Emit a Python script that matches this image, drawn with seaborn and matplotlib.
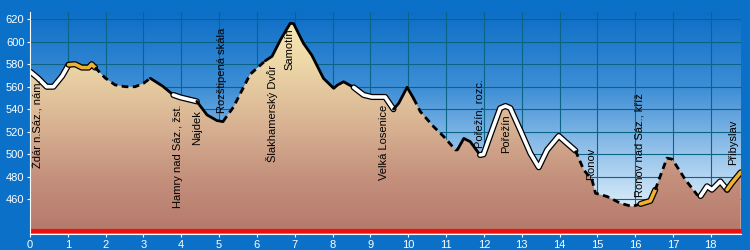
import numpy as np
import matplotlib
matplotlib.use("Agg")
import matplotlib.pyplot as plt
import matplotlib.patheffects as pe
from matplotlib.colors import LinearSegmentedColormap
import seaborn as sns
import pandas as pd

# ---------------- data ----------------
km = [0, 0.2, 0.44, 0.62, 0.85, 1.02, 1.19, 1.37, 1.55, 1.63, 1.72, 1.99, 2.25,
      2.52, 2.78, 3.0, 3.18, 3.5, 3.79, 3.97, 4.41, 4.68, 4.94, 5.1, 5.38, 5.82,
      6.22, 6.4, 6.62, 6.88, 6.97, 7.23, 7.45, 7.76, 8.03, 8.13, 8.29, 8.56,
      8.82, 9.04, 9.39, 9.61, 9.75, 9.97, 10.14, 10.32, 10.67, 10.94, 11.25,
      11.3, 11.47, 11.64, 11.9, 11.99, 12.17, 12.43, 12.57, 12.7, 12.96, 13.23,
      13.45, 13.67, 13.98, 14.15, 14.42, 14.64, 14.86, 14.95, 15.26, 15.61,
      15.92, 16.14, 16.4, 16.53, 16.84, 16.98, 17.33, 17.64, 17.73, 17.9, 18.03,
      18.25, 18.43, 18.56, 18.79]
elev = [573.5, 568, 560, 560, 569.5, 579.5, 580, 577, 577, 580, 577, 567.7,
        561.6, 560, 560, 563, 567.5, 560.7, 552.7, 550.6, 547, 535, 530, 529,
        542, 571, 583, 587, 601.5, 616.3, 616, 598.5, 588, 567.4, 558.6, 561.5,
        564.4, 559.4, 552.7, 550.9, 550.9, 540, 545.4, 559.5, 549.7, 537.9,
        524.6, 515.7, 503.9, 504, 514.1, 511.2, 499.4, 500, 517, 540.9, 542.9,
        541, 521.6, 500.9, 488.5, 503.8, 516.3, 511.2, 503.3, 486.2, 477.3,
        465.5, 462.5, 456.6, 453.7, 456, 458.7, 468.5, 496.6, 495.7, 477.3, 464,
        463, 471.6, 468.6, 476, 468.6, 474.6, 484]

# line style sections: (start km, end km, style)
seg_start = [0, 1.02, 1.72, 3.18, 3.79, 4.41, 5.1, 6.22, 8.56, 9.61, 10.14,
             11.3, 11.9, 14.42, 16.14, 16.53, 17.73, 18.43]
seg_end = [1.02, 1.72, 3.18, 3.79, 4.41, 5.1, 6.22, 8.56, 9.61, 10.14, 11.3,
           11.9, 14.42, 16.14, 16.53, 17.73, 18.43, 18.79]
seg_style = ["white", "orange", "dashed", "solid", "white", "solid", "dashed",
             "solid", "white", "solid", "dashed", "solid", "white", "dashed",
             "orange", "dashed", "white", "orange"]

place_names = ["Ždár n.Sáz., nám.", "Hamry nad Sáz., žst.", "Najdek",
               "Rozštipená skála", "Šlakhamerský Dvůr", "Samotín",
               "Velká Losenice", "Pořežín, rozc.", "Pořežín", "Ronov",
               "Ronov nad Sáz., kříž", "Přibyslav"]
place_km = [0.21, 3.9, 4.41, 5.07, 6.4, 6.85, 9.35, 11.88, 12.6, 14.83, 16.12, 18.58]
place_text_base = [488, 452.4, 508.3, 536.7, 493.2, 574.9, 477.3, 505.7, 501.2,
                   477.3, 462.2, 490.6]

x_ticks = list(range(0, 19))
y_ticks = [460, 480, 500, 520, 540, 560, 580, 600, 620]

# ---------------- style ----------------
FRAME = "#0a70c8"
sns.set_theme(style="white")
plt.rcParams["font.family"] = ["Liberation Sans", "DejaVu Sans"]

fig = plt.figure(figsize=(7.5, 2.5), dpi=100, facecolor=FRAME)
ax = fig.add_axes([30 / 750, 1 - 234.3 / 250, (740.7 - 30) / 750, (234.3 - 11.7) / 250])
ymin, ymax = 429.0, 626.6
xmax = 18.79

# sky background gradient
sky = LinearSegmentedColormap.from_list(
    "sky", [(0.0, "#0c6ec6"), (0.35, "#3f8fd6"), (0.6, "#8cbde8"),
            (0.85, "#d2e8f8"), (1.0, "#eef7fd")])
grad = np.linspace(0, 1, 256).reshape(-1, 1)
ax.imshow(grad, cmap=sky, aspect="auto", extent=[0, xmax, ymin, ymax],
          origin="upper", zorder=0)

# fill under profile with gradient
poly = ax.fill_between(km, elev, ymin, facecolor="none", edgecolor="none", zorder=1)
earth = LinearSegmentedColormap.from_list(
    "earth", [(0.0, "#b5786b"), (0.25, "#c4907c"), (0.5, "#d9b494"),
              (0.78, "#eed9a8"), (1.0, "#f8edb8")])
eg = np.linspace(1, 0, 256).reshape(-1, 1)
im = ax.imshow(eg, cmap=earth, aspect="auto", extent=[0, xmax, ymin, ymax],
               origin="upper", zorder=1)
im.set_clip_path(poly.get_paths()[0], transform=ax.transData)

# grid
ax.set_axisbelow(True)
ax.set_xticks(x_ticks)
ax.set_yticks(y_ticks)
ax.grid(True, color="#0b6486", lw=0.8, zorder=0.5)

# profile line sections
df = pd.DataFrame({"km": km, "elev": elev})
for s, e, st in zip(seg_start, seg_end, seg_style):
    part = df[(df.km >= s - 1e-9) & (df.km <= e + 1e-9)]
    n_before = len(ax.lines)
    sns.lineplot(data=part, x="km", y="elev", sort=False, estimator=None, ax=ax,
                 legend=False)
    ln = ax.lines[n_before]
    ln.set_zorder(3)
    ln.set_solid_capstyle("round")
    ln.set_solid_joinstyle("round")
    if st == "white":
        ln.set_color("white"); ln.set_linewidth(2.6)
        ln.set_path_effects([pe.Stroke(linewidth=4.4, foreground="black"), pe.Normal()])
    elif st == "orange":
        ln.set_color("#f0b030"); ln.set_linewidth(2.6)
        ln.set_path_effects([pe.Stroke(linewidth=4.4, foreground="black"), pe.Normal()])
    elif st == "dashed":
        ln.set_color("black"); ln.set_linewidth(2.0)
        ln.set_dashes((2.4, 1.6))
    else:
        ln.set_color("black"); ln.set_linewidth(2.0)

# red baseline
ax.axhline(431.8, color="#ee1010", lw=3.0, zorder=4)

# place labels
for name, xk, yb in zip(place_names, place_km, place_text_base):
    ax.text(xk, yb, name, rotation=90, ha="center", va="bottom", fontsize=8,
            color="black", zorder=5)

# axes styling
ax.set_xlim(0, xmax)
ax.set_ylim(ymin, ymax)
ax.set_xlabel("")
ax.set_ylabel("")
for side in ["top", "right"]:
    ax.spines[side].set_visible(False)
for side in ["left", "bottom"]:
    ax.spines[side].set_color("white")
    ax.spines[side].set_linewidth(0.8)
    ax.spines[side].set_zorder(6)
ax.tick_params(axis="both", colors="white", labelcolor="white", labelsize=8,
               length=2.5, width=0.8, pad=1.5, left=True, bottom=True)

fig.savefig("out.png", dpi=100, facecolor=FRAME)
